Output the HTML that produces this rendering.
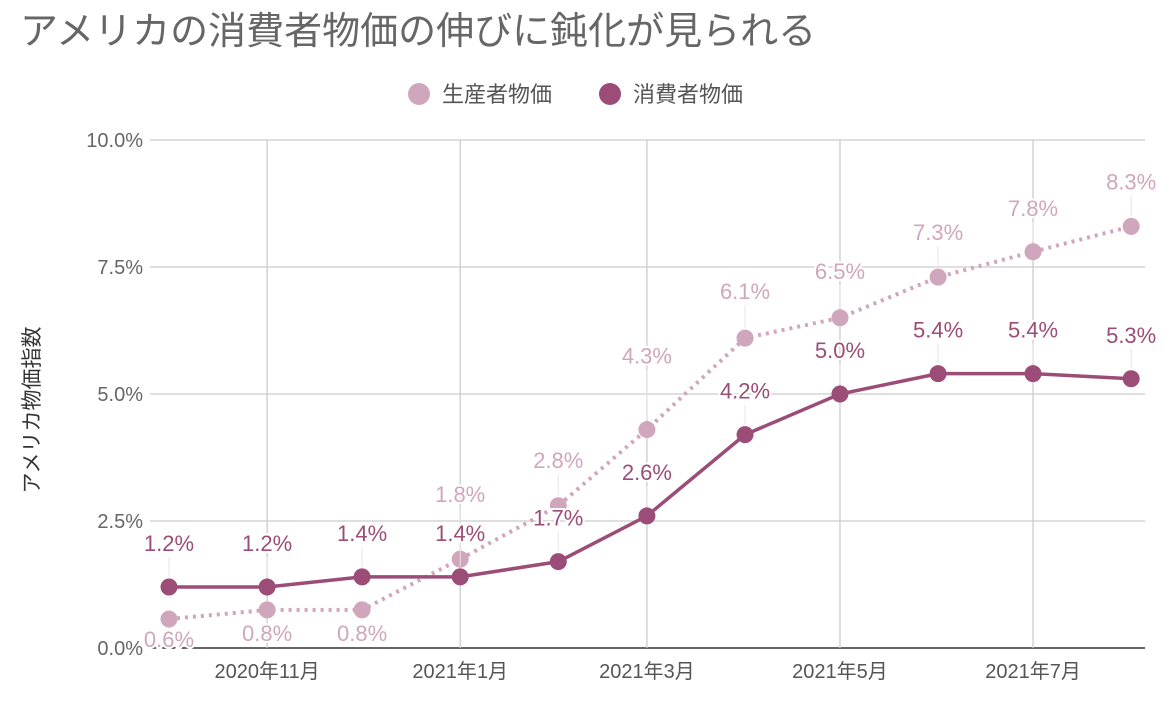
<!DOCTYPE html>
<html><head><meta charset="utf-8">
<style>
body{margin:0;background:#fff;}
svg{display:block;font-family:"Liberation Sans","Noto Sans CJK JP",sans-serif;}
</style></head>
<body>
<svg id="chart" width="1172" height="704">
<text x="20" y="44" font-size="38" fill="#666">アメリカの消費者物価の伸びに鈍化が見られる</text>
<g>
<circle cx="419" cy="94" r="11" fill="#d0a6bd"/>
<text x="442" y="102" font-size="22" fill="#555">生産者物価</text>
<circle cx="610" cy="94" r="11" fill="#9b4d77"/>
<text x="633" y="102" font-size="22" fill="#555">消費者物価</text>
</g>
<text transform="translate(39,410) rotate(-90)" text-anchor="middle" font-size="21" fill="#333">アメリカ物価指数</text>
<g id="grid"></g>
<g id="marks"></g>
</svg>
<script>
const dates=["2020-10-01","2020-11-01","2020-12-01","2021-01-01","2021-02-01","2021-03-01","2021-04-01","2021-05-01","2021-06-01","2021-07-01","2021-08-01"];
const ppiValues=[0.57,0.75,0.75,1.75,2.8,4.3,6.1,6.5,7.3,7.8,8.3];
const ppiLabels=["0.6%","0.8%","0.8%","1.8%","2.8%","4.3%","6.1%","6.5%","7.3%","7.8%","8.3%"];
const cpiValues=[1.2,1.2,1.4,1.4,1.7,2.6,4.2,5.0,5.4,5.4,5.3];
const cpiLabels=["1.2%","1.2%","1.4%","1.4%","1.7%","2.6%","4.2%","5.0%","5.4%","5.4%","5.3%"];
const yTicks=[0,2.5,5,7.5,10];
const yTickLabels=["0.0%","2.5%","5.0%","7.5%","10.0%"];
const xTicks=["2020-11-01","2021-01-01","2021-03-01","2021-05-01","2021-07-01"];
const xTickLabels=["2020年11月","2021年1月","2021年3月","2021年5月","2021年7月"];

const NS="http://www.w3.org/2000/svg";
const t0=Date.parse("2020-10-01");
function xS(d){return 169+(Date.parse(d)-t0)/86400000*3.165;}
function yS(v){return 648-v*50.8;}
function mk(tag,attrs,parent,text){const e=document.createElementNS(NS,tag);for(const k in attrs)e.setAttribute(k,attrs[k]);if(text!=null)e.textContent=text;parent.appendChild(e);return e;}
const grid=document.getElementById('grid'),marks=document.getElementById('marks');
yTicks.forEach((v,i)=>{
  const l=mk('line',{x1:150,x2:1145,y1:yS(v),y2:yS(v),stroke:v===0?'#333':'#ccc','stroke-width':v===0?1.5:1.3},grid);
  
  
  const t=mk('text',{x:143,y:yS(v)+7,'text-anchor':'end','font-size':20,fill:'#666'},grid,yTickLabels[i]);
  
  
});
xTicks.forEach((d,i)=>{
  const l=mk('line',{x1:xS(d),x2:xS(d),y1:yS(10),y2:yS(0),stroke:'#ccc','stroke-width':1.3},grid);
  
  
  const t=mk('text',{x:xS(d),y:678,'text-anchor':'middle','font-size':20,fill:'#555'},grid,xTickLabels[i]);
  
  
});
const ppiOff=[22,25,25,-57,-38,-66,-39,-39,-37,-36,-37];
function series(vals,labels,color,dash,name,offs){
  const pts=vals.map((v,i)=>xS(dates[i])+','+yS(v)).join(' ');
  const pl=mk('polyline',{points:pts,fill:'none',stroke:color,'stroke-width':dash?4:3.5,'stroke-dasharray':dash?'3 5':'none'},marks);
  
  
  vals.forEach((v,i)=>{
    const x=xS(dates[i]),y=yS(v),o=offs?offs[i]:-36;
    const ld=mk('line',{x1:x,x2:x,y1:o<0?y+o+6:y+10,y2:o<0?y-10:y+o-14,stroke:'#e6e6e6','stroke-width':1},marks);
    
    
    const c=mk('circle',{cx:x,cy:y,r:8.5,fill:color},marks);
    
    
    const t=mk('text',{x:x,y:y+o+(o<0?0:6),'text-anchor':'middle','font-size':22,fill:color,stroke:'#fff','stroke-width':4,'paint-order':'stroke'},marks,labels[i]);
    
    
  });
}
series(ppiValues,ppiLabels,'#d0a6bd',true,'ppi',ppiOff);
series(cpiValues,cpiLabels,'#9b4d77',false,'cpi',null);
</script>
</body></html>
